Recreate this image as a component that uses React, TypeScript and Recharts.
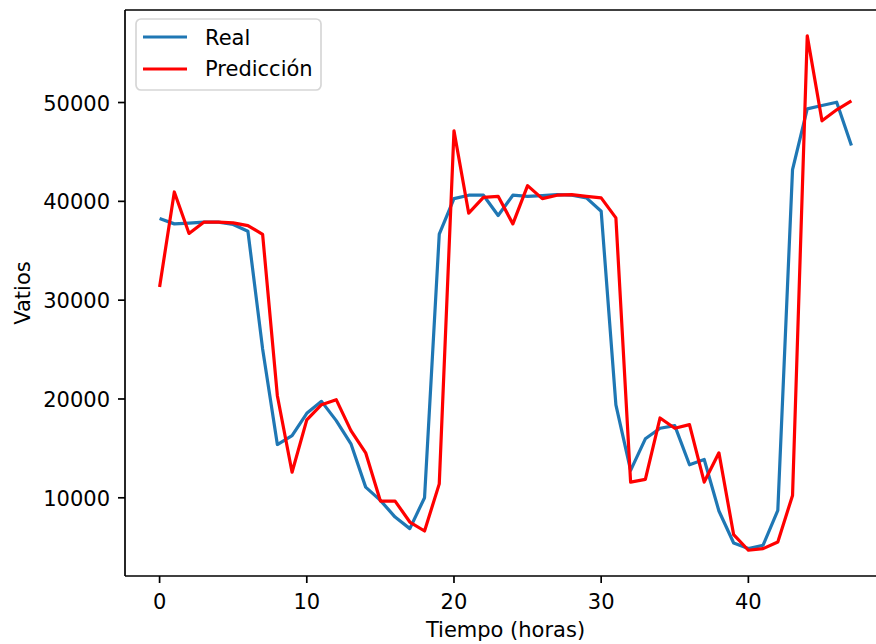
import React from 'react';
import { LineChart, Line, XAxis, YAxis, Legend, ReferenceLine } from 'recharts';

// hourly readings (W)
const hours = Array.from({ length: 48 }, (_, i) => i);
const real = [
  38260, 37720, 37790, 37890, 37890, 37660, 36980, 25070, 15390, 16300,
  18550, 19760, 17810, 15460, 11080, 9740, 8050, 6880, 10010, 36680,
  40280, 40620, 40620, 38570, 40620, 40510, 40580, 40680, 40620, 40350,
  39000, 19400, 12770, 15970, 17040, 17310, 13340, 13880, 8660, 5430,
  4860, 5200, 8730, 43210, 49360, 49700, 50030, 45660,
];
const pred = [
  31330, 40950, 36750, 37890, 37890, 37820, 37550, 36650, 20330, 12590,
  17880, 19420, 19930, 16800, 14550, 9670, 9670, 7550, 6640, 11410,
  47140, 38800, 40410, 40510, 37720, 41590, 40280, 40620, 40680, 40510,
  40350, 38330, 11590, 11860, 18080, 17040, 17410, 11590, 14550, 6270,
  4690, 4860, 5530, 10240, 56760, 48150, 49260, 50170,
];
const xTicks = [0, 10, 20, 30, 40];
const yTicks = [10000, 20000, 30000, 40000, 50000];

const data = hours.map((t, i) => ({ t, real: real[i], pred: pred[i] }));

// matplotlib-style 5% margins
const allVals = [...real, ...pred];
const yMin = Math.min(...allVals);
const yMax = Math.max(...allVals);
const yPad = (yMax - yMin) * 0.05;
const xPad = (hours[hours.length - 1] - hours[0]) * 0.05;
const yTop = yMax + yPad;

const FONT = 'DejaVu Sans';
const FS = 21;

const XTick = (props: any) => (
  <text x={props.x} y={props.y + 26} textAnchor="middle" fontSize={FS} fontFamily={FONT} fill="#000">
    {props.payload.value}
  </text>
);

const YTick = (props: any) => (
  <text x={props.x - 8} y={props.y + 8} textAnchor="end" fontSize={FS} fontFamily={FONT} fill="#000">
    {props.payload.value}
  </text>
);

const renderLegend = () => (
  <svg width={188} height={74}>
    <rect x={1} y={1} width={185} height={71} rx={5} ry={5} fill="#fff" fillOpacity={0.8} stroke="#d6d6d6" strokeWidth={1.7} />
    <line x1={8} x2={52} y1={19} y2={19} stroke="#1f77b4" strokeWidth={3.2} />
    <text x={70} y={26.5} fontSize={FS} fontFamily={FONT} fill="#000">Real</text>
    <line x1={8} x2={52} y1={51} y2={51} stroke="#ff0000" strokeWidth={3.2} />
    <text x={70} y={58} fontSize={FS} fontFamily={FONT} fill="#000">Predicción</text>
  </svg>
);

const App: React.FC = () => {
  return (
    <div style={{ position: 'fixed', left: 0, top: 0, width: 876, height: 644, overflow: 'hidden', background: '#fff' }}>
      <LineChart width={900} height={644} data={data} margin={{ top: 10, right: 14, left: 0, bottom: 0 }}>
        <XAxis
          dataKey="t"
          type="number"
          domain={[hours[0] - xPad, hours[hours.length - 1] + xPad]}
          allowDataOverflow
          ticks={xTicks}
          height={68}
          tickSize={7}
          tickMargin={0}
          tick={<XTick />}
          axisLine={{ stroke: '#000', strokeWidth: 1.7 }}
          tickLine={{ stroke: '#000', strokeWidth: 1.7 }}
          label={{ value: 'Tiempo (horas)', position: 'insideBottom', offset: 7, fontSize: FS, fontFamily: FONT, fill: '#000' }}
        />
        <YAxis
          type="number"
          domain={[yMin - yPad, yTop]}
          allowDataOverflow
          ticks={yTicks}
          width={125}
          tickSize={7}
          tickMargin={0}
          tick={<YTick />}
          axisLine={{ stroke: '#000', strokeWidth: 1.7 }}
          tickLine={{ stroke: '#000', strokeWidth: 1.7 }}
          label={{
            content: () => (
              <text x={30} y={293} transform="rotate(-90, 30, 293)" textAnchor="middle" fontSize={FS} fontFamily={FONT} fill="#000">
                Vatios
              </text>
            ),
          }}
        />
        {/* top spine */}
        <ReferenceLine y={yTop} stroke="#000" strokeWidth={1.7} ifOverflow="extendDomain" />
        <Legend
          layout="vertical"
          align="center"
          verticalAlign="middle"
          wrapperStyle={{ left: 135, top: 18, width: 188, height: 74 }}
          content={renderLegend}
        />
        <Line type="linear" dataKey="real" name="Real" stroke="#1f77b4" strokeWidth={3.2} dot={false} strokeLinejoin="round" isAnimationActive={false} />
        <Line type="linear" dataKey="pred" name="Predicción" stroke="#ff0000" strokeWidth={3.2} dot={false} strokeLinejoin="round" isAnimationActive={false} />
      </LineChart>
    </div>
  );
};

export default App;
